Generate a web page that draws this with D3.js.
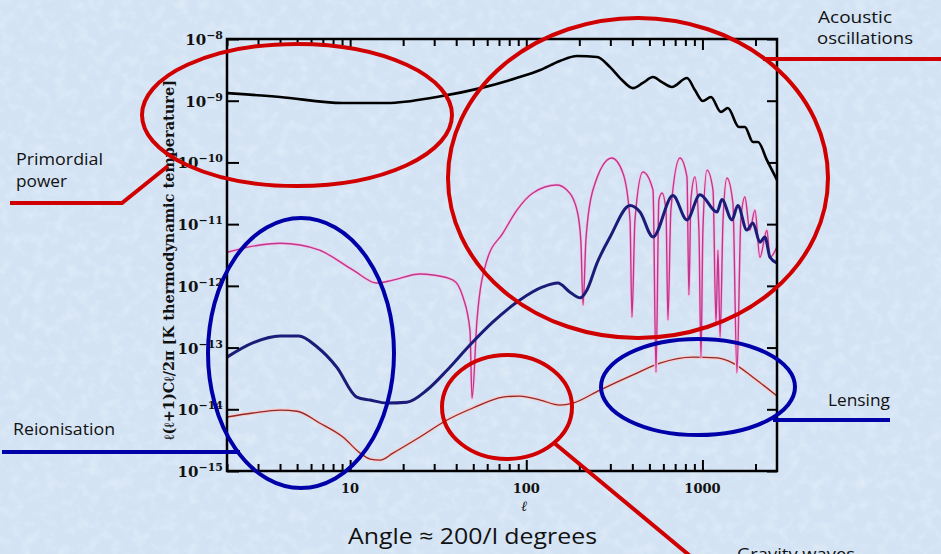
<!DOCTYPE html>
<html>
<head>
<meta charset="utf-8">
<script src="https://cdn.jsdelivr.net/npm/d3@7"></script>
<style>
  html, body { margin: 0; padding: 0; background: #d4e4f4; }
  svg { display: block; }
  .note { font-family: "Comic Sans MS", "Open Sans", sans-serif; fill: #111; }
  .tick-label { font-family: "DejaVu Serif", serif; font-weight: bold; fill: #111; }
</style>
</head>
<body>
<div id="chart"></div>
<script>
// multipole l and l(l+1)Cl/2pi values
const ttL = [2, 4, 9.1, 16.2, 31, 55, 88, 120, 155, 194, 252, 299, 349, 403, 459, 524, 589, 671, 817, 906, 1006, 1117, 1273, 1394, 1610, 1741, 1935, 2066, 2323, 2650];
const ttC = [1.33e-9, 1.15e-9, 9.2e-10, 9.2e-10, 1.15e-9, 1.6e-9, 2.33e-9, 3.15e-9, 4.4e-9, 5.3e-9, 5.1e-9, 3.5e-9, 2.17e-9, 1.6e-9, 1.94e-9, 2.42e-9, 2.0e-9, 1.67e-9, 2.33e-9, 1.49e-9, 9.9e-10, 1.15e-9, 6.6e-10, 7.6e-10, 3.75e-10, 3.75e-10, 2.14e-10, 2.14e-10, 1.09e-10, 5.2e-11];

const eeL = [2, 2.8, 4, 5.1, 6.5, 8.4, 10.9, 13, 16.2, 21, 27.3, 35.5, 47.9, 64.7, 92, 124, 151, 177, 202, 221, 252, 299, 388, 442, 524, 680, 817, 968, 1209, 1290, 1470, 1589, 1787, 1935, 2119, 2263, 2417, 2650];
const eeC = [7.0e-14, 1.19e-13, 1.54e-13, 1.54e-13, 1.02e-13, 4.8e-14, 1.58e-14, 1.41e-14, 1.26e-14, 1.3e-14, 2.05e-14, 4.3e-14, 1.1e-13, 2.6e-13, 5.9e-13, 9.6e-13, 1.11e-12, 7.9e-13, 6.4e-13, 8.6e-13, 2.34e-12, 6.2e-12, 2.0e-11, 1.57e-11, 6.2e-12, 2.9e-11, 1.17e-11, 3.0e-11, 1.57e-11, 2.5e-11, 1.17e-11, 2.0e-11, 8.0e-12, 1.04e-11, 5.1e-12, 6.2e-12, 2.9e-12, 2.34e-12];

const teL = [2, 3.08, 4, 5.2, 6.7, 10.4, 14.2, 17.5, 24.9, 29.5, 38.4, 43.7, 47.9, 49.2, 52.5, 59.8, 73.8, 88.5, 109, 149, 170, 194, 204, 210, 218, 239, 306, 354, 388, 398, 414, 459, 524, 545, 566, 589, 621, 637, 662, 745, 817, 838, 860, 906, 955, 981, 1006, 1061, 1148, 1194, 1225, 1259, 1309, 1377, 1489, 1570, 1652, 1741, 1858, 1986, 2119, 2323, 2417, 2650];
const teC = [3.5e-12, 4.6e-12, 4.9e-12, 4.6e-12, 3.8e-12, 1.8e-12, 1.11e-12, 1.24e-12, 1.56e-12, 1.5e-12, 1.24e-12, 6.6e-13, 1.9e-13, 1.5e-14, 2.8e-13, 2.6e-12, 7.2e-12, 1.69e-11, 3.2e-11, 4.3e-11, 3.57e-11, 1.69e-11, 5.5e-12, 4.9e-13, 5.5e-12, 3.57e-11, 1.18e-10, 6.7e-11, 1.17e-11, 3.1e-13, 1.17e-11, 7.0e-11, 3.57e-11, 4.0e-14, 2.46e-11, 3.2e-11, 1.69e-11, 2.8e-13, 1.69e-11, 1.18e-10, 5.8e-11, 7.1e-13, 2.46e-11, 5.8e-11, 8.0e-12, 6.8e-14, 8.0e-12, 7.5e-11, 3.57e-11, 2.5e-13, 3.8e-12, 1.48e-13, 1.17e-11, 5.6e-11, 2.2e-11, 3.9e-14, 1.17e-11, 2.75e-11, 8.0e-12, 1.69e-11, 2.9e-12, 8.0e-12, 2.9e-12, 4.3e-12];

const bbL = [2, 2.8, 4, 5, 6.7, 9.1, 11.4, 13, 14.8, 17.5, 24.9, 35.5, 49.8, 73.8, 92, 120, 155, 184, 262, 403, 574, 883, 1209, 1489, 1935, 2650];
const bbC = [7.5e-15, 8.7e-15, 9.7e-15, 9.3e-15, 6.0e-15, 3.55e-15, 1.95e-15, 1.56e-15, 1.5e-15, 1.95e-15, 3.55e-15, 6.7e-15, 1.05e-14, 1.58e-14, 1.64e-14, 1.41e-14, 1.17e-14, 1.26e-14, 2.05e-14, 3.6e-14, 5.6e-14, 7.0e-14, 6.8e-14, 5.6e-14, 3.3e-14, 1.64e-14];

const xTickLabels = [10, 100, 1000];
const yTickExps = [-8, -9, -10, -11, -12, -13, -14, -15];

const width = 941;
const height = 554;
const plot = { left: 227, right: 777, top: 39, bottom: 471 };

const svg = d3.select('#chart').append('svg')
  .attr('width', width)
  .attr('height', height)
  .attr('viewBox', `0 0 ${width} ${height}`);

// mottled paper background
const defs = svg.append('defs');
const tex = defs.append('filter').attr('id', 'tex').attr('x', 0).attr('y', 0).attr('width', 1).attr('height', 1);
tex.append('feTurbulence').attr('type', 'fractalNoise').attr('baseFrequency', 0.09).attr('numOctaves', 3).attr('seed', 7);
tex.append('feColorMatrix').attr('type', 'matrix')
  .attr('values', '0 0 0 0 1  0 0 0 0 1  0 0 0 0 1  1.6 0 0 0 -0.7');

svg.append('rect').attr('width', width).attr('height', height).attr('fill', '#d3e3f4');
svg.append('rect').attr('width', width).attr('height', height).attr('filter', 'url(#tex)').attr('opacity', 0.35);

const x = d3.scaleLog().domain([2, 2650]).range([plot.left, plot.right]);
const y = d3.scaleLog().domain([1e-15, 1e-8]).range([plot.bottom, plot.top]);

const zip = (ls, cs) => ls.map((l, i) => ({ l, c: cs[i] }));
const line = d3.line().x(d => x(d.l)).y(d => y(d.c)).curve(d3.curveMonotoneX);

const curves = svg.append('g');
curves.append('path').datum(zip(bbL, bbC)).attr('d', line)
  .attr('fill', 'none').attr('stroke', '#f8cccc').attr('stroke-width', 3.5);
curves.append('path').datum(zip(bbL, bbC)).attr('d', line)
  .attr('fill', 'none').attr('stroke', '#8e2a2a').attr('stroke-width', 1.3);
curves.append('path').datum(zip(teL, teC)).attr('d', line)
  .attr('fill', 'none').attr('stroke', '#f3c4e2').attr('stroke-width', 3);
curves.append('path').datum(zip(teL, teC)).attr('d', line)
  .attr('fill', 'none').attr('stroke', '#c0358f').attr('stroke-width', 1.4);
curves.append('path').datum(zip(eeL, eeC)).attr('d', line)
  .attr('fill', 'none').attr('stroke', '#1c1c78').attr('stroke-width', 3);
curves.append('path').datum(zip(ttL, ttC)).attr('d', line)
  .attr('fill', 'none').attr('stroke', '#000').attr('stroke-width', 2.6);

// axes, ticks pointing inward
const minor = [];
[1, 10, 100, 1000].forEach(d => { for (let k = 2; k <= 9; k += 1) { if (d * k >= 2 && d * k <= 2650) minor.push(d * k); } });
const major = xTickLabels;
const decades = yTickExps.map(e => Math.pow(10, e));

const styleAxis = (g) => {
  g.select('.domain').remove();
  g.selectAll('.tick line').attr('stroke', '#000').attr('stroke-width', 2);
  g.selectAll('.tick text').remove();
};

svg.append('g').attr('transform', `translate(0,${plot.bottom})`)
  .call(d3.axisBottom(x).tickValues(minor.filter(v => !major.includes(v))).tickSize(-7)).call(styleAxis);
svg.append('g').attr('transform', `translate(0,${plot.bottom})`)
  .call(d3.axisBottom(x).tickValues(major).tickSize(-11)).call(styleAxis);
svg.append('g').attr('transform', `translate(0,${plot.top})`)
  .call(d3.axisTop(x).tickValues(minor.filter(v => !major.includes(v))).tickSize(-7)).call(styleAxis);
svg.append('g').attr('transform', `translate(0,${plot.top})`)
  .call(d3.axisTop(x).tickValues(major).tickSize(-11)).call(styleAxis);
svg.append('g').attr('transform', `translate(${plot.left},0)`)
  .call(d3.axisLeft(y).tickValues(decades).tickSize(-12)).call(styleAxis);
svg.append('g').attr('transform', `translate(${plot.right},0)`)
  .call(d3.axisRight(y).tickValues(decades).tickSize(-10)).call(styleAxis);

svg.append('rect')
  .attr('x', plot.left).attr('y', plot.top)
  .attr('width', plot.right - plot.left).attr('height', plot.bottom - plot.top)
  .attr('fill', 'none').attr('stroke', '#000').attr('stroke-width', 2.5);

// tick labels
svg.selectAll('.xlab').data(xTickLabels).enter().append('text')
  .attr('class', 'tick-label')
  .attr('x', d => x(d)).attr('y', 493)
  .attr('text-anchor', 'middle').attr('font-size', 13)
  .text(d => d);

const ylab = svg.selectAll('.ylab').data(yTickExps).enter().append('text')
  .attr('class', 'tick-label')
  .attr('x', plot.left - 4).attr('y', d => y(Math.pow(10, d)) + 6)
  .attr('text-anchor', 'end').attr('font-size', 15);
ylab.append('tspan').text('10');
ylab.append('tspan').attr('dy', -6).attr('font-size', 11).text(d => '\u2212' + Math.abs(d));

svg.append('text').attr('class', 'tick-label')
  .attr('x', x(100) - 2).attr('y', 511).attr('text-anchor', 'middle')
  .attr('font-size', 14).attr('font-style', 'italic').text('\u2113');

svg.append('text').attr('class', 'tick-label')
  .attr('transform', 'translate(174,260) rotate(-90)')
  .attr('text-anchor', 'middle').attr('font-size', 14)
  .attr('textLength', 360).attr('lengthAdjust', 'spacingAndGlyphs')
  .text('\u2113(\u2113+1)C\u2113/2\u03c0 [K thermodynamic temperature]');

// annotations
const red = '#d00000';
const blue = '#0000a8';
const ann = svg.append('g').attr('fill', 'none').attr('stroke-width', 4);

const ellipses = [
  { cx: 297, cy: 115, rx: 155, ry: 71, color: red },
  { cx: 638, cy: 178, rx: 190, ry: 160, color: red },
  { cx: 301, cy: 353, rx: 93, ry: 135, color: blue },
  { cx: 507, cy: 407, rx: 65, ry: 52, color: red },
  { cx: 698, cy: 387, rx: 97, ry: 48, color: blue },
];
ann.selectAll('ellipse').data(ellipses).enter().append('ellipse')
  .attr('cx', d => d.cx).attr('cy', d => d.cy)
  .attr('rx', d => d.rx).attr('ry', d => d.ry)
  .attr('stroke', d => d.color);

const leaders = [
  { pts: [[10, 203], [122, 203], [168, 166]], color: red },
  { pts: [[763, 59], [941, 59]], color: red },
  { pts: [[2, 452], [240, 452]], color: blue },
  { pts: [[553, 442], [695, 560]], color: red },
  { pts: [[773, 420], [890, 420]], color: blue },
];
ann.selectAll('polyline').data(leaders).enter().append('polyline')
  .attr('points', d => d.pts.map(p => p.join(',')).join(' '))
  .attr('stroke', d => d.color);

const notes = [
  { text: 'Primordial', x: 16, y: 165, size: 16, w: 87 },
  { text: 'power', x: 16, y: 187, size: 16, w: 51 },
  { text: 'Acoustic', x: 818, y: 23, size: 16, w: 74 },
  { text: 'oscillations', x: 817, y: 44, size: 16, w: 96 },
  { text: 'Reionisation', x: 13, y: 435, size: 17, w: 102 },
  { text: 'Lensing', x: 828, y: 406, size: 17, w: 62 },
  { text: 'Gravity waves', x: 737, y: 560, size: 17, w: 118 },
  { text: 'Angle \u2248 200/l degrees', x: 348, y: 544, size: 22, w: 249 },
];
svg.selectAll('.note').data(notes).enter().append('text')
  .attr('class', 'note')
  .attr('x', d => d.x).attr('y', d => d.y)
  .attr('font-size', d => d.size)
  .attr('textLength', d => d.w).attr('lengthAdjust', 'spacingAndGlyphs')
  .text(d => d.text);
</script>
</body>
</html>
